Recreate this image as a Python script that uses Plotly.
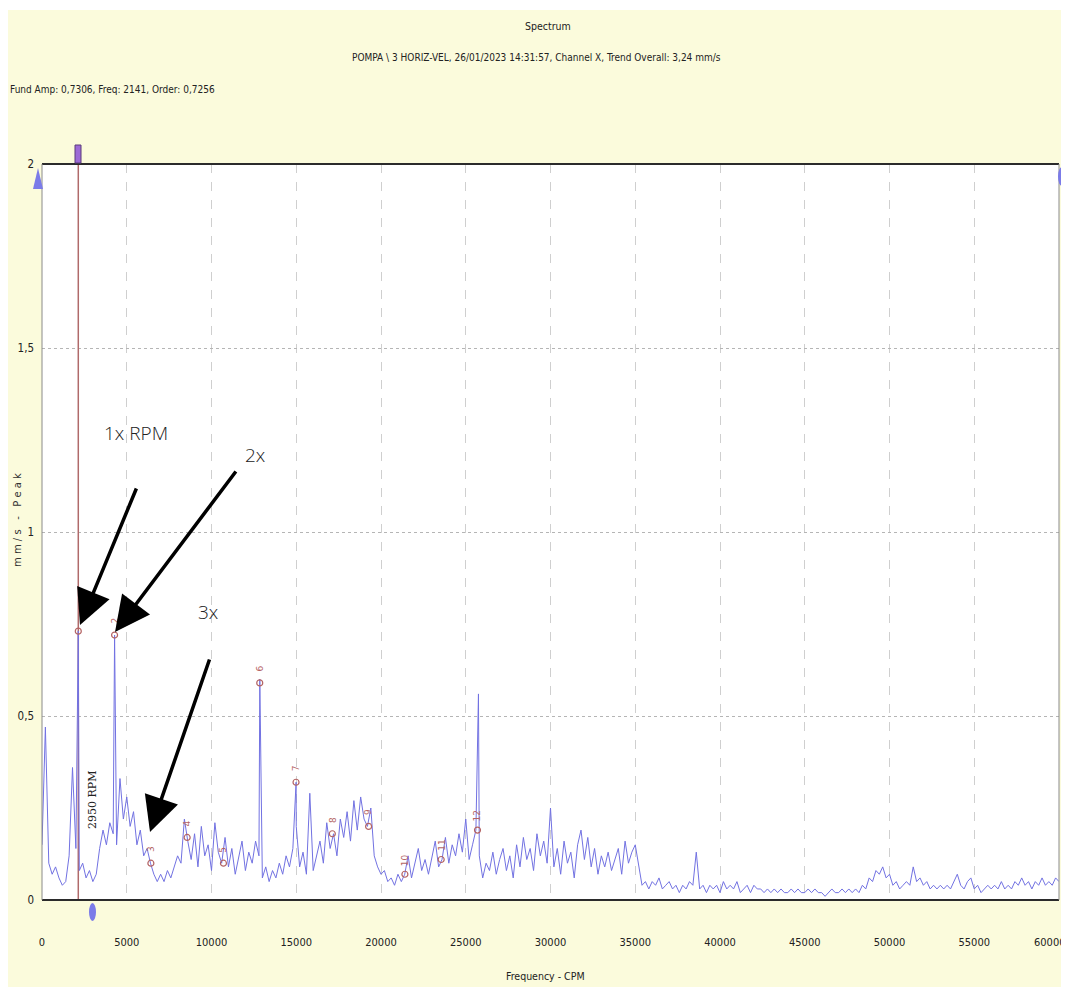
import plotly.graph_objects as go

# ---------------- data ----------------
step_cpm = 200
spectrum_amp = [
    0.15, 0.47, 0.10, 0.07, 0.09, 0.06, 0.04, 0.05, 0.12, 0.36,
    0.14, 0.08, 0.10, 0.06, 0.08, 0.05, 0.07, 0.14, 0.19, 0.15,
    0.21, 0.18, 0.15, 0.33, 0.22, 0.28, 0.20, 0.24, 0.15, 0.19,
    0.12, 0.14, 0.10, 0.07, 0.05, 0.07, 0.05, 0.08, 0.06, 0.09,
    0.12, 0.10, 0.22, 0.16, 0.11, 0.18, 0.09, 0.20, 0.12, 0.15,
    0.08, 0.21, 0.13, 0.10, 0.17, 0.09, 0.14, 0.07, 0.12, 0.16,
    0.08, 0.13, 0.10, 0.16, 0.12, 0.06, 0.09, 0.05, 0.08, 0.06,
    0.10, 0.07, 0.12, 0.09, 0.14, 0.20, 0.09, 0.13, 0.07, 0.29,
    0.08, 0.12, 0.16, 0.10, 0.21, 0.14, 0.18, 0.12, 0.22, 0.17,
    0.24, 0.16, 0.27, 0.19, 0.28, 0.22, 0.20, 0.25, 0.12, 0.09,
    0.07, 0.08, 0.05, 0.06, 0.04, 0.07, 0.05, 0.07, 0.12, 0.06,
    0.10, 0.14, 0.08, 0.11, 0.07, 0.12, 0.16, 0.09, 0.11, 0.17,
    0.10, 0.15, 0.12, 0.18, 0.13, 0.22, 0.11, 0.15, 0.19, 0.12,
    0.06, 0.10, 0.08, 0.13, 0.07, 0.11, 0.14, 0.08, 0.12, 0.06,
    0.15, 0.09, 0.17, 0.11, 0.14, 0.08, 0.18, 0.12, 0.16, 0.10,
    0.25, 0.09, 0.14, 0.07, 0.16, 0.10, 0.13, 0.06, 0.15, 0.19,
    0.11, 0.17, 0.09, 0.14, 0.07, 0.12, 0.09, 0.13, 0.08, 0.11,
    0.14, 0.07, 0.16, 0.10, 0.13, 0.15, 0.09, 0.04, 0.05, 0.03,
    0.05, 0.04, 0.06, 0.03, 0.04, 0.05, 0.03, 0.04, 0.02, 0.04,
    0.03, 0.05, 0.04, 0.13, 0.03, 0.04, 0.02, 0.04, 0.03, 0.04,
    0.02, 0.05, 0.03, 0.04, 0.03, 0.05, 0.02, 0.03, 0.04, 0.02,
    0.04, 0.03, 0.03, 0.02, 0.03, 0.02, 0.03, 0.02, 0.03, 0.02,
    0.02, 0.03, 0.02, 0.03, 0.02, 0.02, 0.03, 0.02, 0.03, 0.02,
    0.02, 0.01, 0.02, 0.03, 0.02, 0.02, 0.03, 0.02, 0.03, 0.02,
    0.03, 0.02, 0.04, 0.03, 0.06, 0.05, 0.08, 0.07, 0.09, 0.06,
    0.07, 0.04, 0.05, 0.03, 0.04, 0.05, 0.04, 0.09, 0.05, 0.06,
    0.04, 0.05, 0.03, 0.04, 0.03, 0.04, 0.03, 0.04, 0.03, 0.05,
    0.07, 0.04, 0.03, 0.05, 0.06, 0.03, 0.04, 0.02, 0.03, 0.04,
    0.03, 0.04, 0.03, 0.05, 0.03, 0.04, 0.03, 0.05, 0.04, 0.06,
    0.04, 0.05, 0.03, 0.05, 0.04, 0.06, 0.04, 0.05, 0.04, 0.06,
    0.05,
]
spectrum_freq = [i * step_cpm for i in range(len(spectrum_amp))]

# narrow discrete peaks (CPM, mm/s)
peak_freq = [2141, 4282, 12850, 14990, 25750]
peak_amp = [0.7306, 0.72, 0.60, 0.32, 0.56]

# order markers (harmonics of 2141 CPM)
fund_freq = 2141
order_num = [1, 2, 3, 4, 5, 6, 7, 8, 9, 10, 11, 12]
order_amp = [0.7306, 0.72, 0.10, 0.17, 0.10, 0.59, 0.32, 0.18, 0.20, 0.07, 0.11, 0.19]
order_freq = [fund_freq * n for n in order_num]

rpm_value = 2950

x_ticks = [0, 5000, 10000, 15000, 20000, 25000, 30000, 35000, 40000, 45000, 50000, 55000, 60000]
y_ticks = [0, 0.5, 1, 1.5, 2]
y_tick_text = ["0", "0,5", "1", "1,5", "2"]

# ---------------- geometry helpers (layout only, page pixels) ----------------
PAGE_W, PAGE_H = 1069, 987
OFF = 8                       # browser body margin
W, H = PAGE_W - OFF, PAGE_H - OFF
L, R, T, B = 42, 1059, 164, 900
XMAX, YMAX = 60000, 2.0


def px2x(px):
    return (px - L) * XMAX / (R - L)


def py2y(py):
    return (B - py) * YMAX / (B - T)


def ppx(px):
    return (px - L) / (R - L)


def ppy(py):
    return (B - py) / (B - T)


NARROW = "DejaVu Sans Condensed, DejaVu Sans, sans-serif"
BG = "#fbfbdc"
LINE_BLUE = "#7272e2"
ORDER_RED = "#b46464"
TXT = "#222222"

# merge grid and peaks
pts = sorted(list(zip(spectrum_freq, spectrum_amp)) + list(zip(peak_freq, peak_amp)))
fx = [p[0] for p in pts]
fy = [p[1] for p in pts]

fig = go.Figure()

# cursor line at 1x
fig.add_trace(go.Scatter(x=[fund_freq, fund_freq], y=[0, YMAX], mode="lines",
                         line=dict(color="#b06a6a", width=1.5), hoverinfo="skip", showlegend=False))

fig.add_trace(go.Scatter(x=fx, y=fy, mode="lines", line=dict(color=LINE_BLUE, width=1),
                         showlegend=False))

fig.add_trace(go.Scatter(x=order_freq, y=order_amp, mode="markers",
                         marker=dict(symbol="circle-open", size=6, color=ORDER_RED, line=dict(width=1.2)),
                         showlegend=False))

annotations = []
for n, f, a in zip(order_num, order_freq, order_amp):
    if n == 1:
        continue
    annotations.append(dict(x=f, y=a, text=str(n), showarrow=False, textangle=-90,
                            font=dict(family="DejaVu Sans", size=9, color=ORDER_RED),
                            yshift=14, xref="x", yref="y"))

# RPM label
annotations.append(dict(x=rpm_value, y=py2y(800), text="2950 RPM", showarrow=False, textangle=-90,
                        font=dict(family="DejaVu Serif, serif", size=11, color=TXT), xref="x", yref="y"))


def paper_text(px, py, text, size, family=NARROW, xanchor="center", angle=0, color=TXT):
    return dict(x=ppx(px), y=ppy(py), xref="paper", yref="paper", text=text, showarrow=False,
                xanchor=xanchor, yanchor="middle", textangle=angle,
                font=dict(family=family, size=size, color=color))


# titles
annotations += [
    paper_text(548, 26, "Spectrum", 10.5),
    paper_text(536, 58, "POMPA \\ 3 HORIZ-VEL, 26/01/2023 14:31:57, Channel X, Trend Overall: 3,24 mm/s", 10),
    paper_text(8, 90, "Fund Amp: 0,7306, Freq: 2141, Order: 0,7256", 10, xanchor="left"),
    paper_text(17, 520, "m\u00a0m\u00a0/\u00a0s\u00a0\u00a0\u00a0-\u00a0\u00a0\u00a0P\u00a0e\u00a0a\u00a0k", 10,
               family="DejaVu Sans", angle=-90, color="#333333"),
    paper_text(545, 976, "Frequency - CPM", 10.5),
    # last x tick label, kept inside the page edge
    paper_text(1067, 942, str(x_ticks[-1]), 11, xanchor="right"),
]

# callout texts
ANN_FONT = dict(family="Open Sans, sans-serif", size=19, color="#222222", weight=300)
annotations += [
    dict(x=px2x(136), y=py2y(433), text="1x RPM", showarrow=False, font=ANN_FONT),
    dict(x=px2x(255), y=py2y(455), text="2x", showarrow=False, font=ANN_FONT),
    dict(x=px2x(208), y=py2y(612), text="3x", showarrow=False, font=ANN_FONT),
]

# arrows (tip in data coords, tail offset in pixels)
for tip, tail in [((80, 625), (137, 487)), ((115, 632), (237, 470)), ((150, 832), (210, 658))]:
    annotations.append(dict(x=px2x(tip[0]), y=py2y(tip[1]), ax=tail[0] - tip[0], ay=tail[1] - tip[1],
                            text="", showarrow=True, arrowhead=2, arrowsize=2.0, arrowwidth=3.5,
                            arrowcolor="#000000", xref="x", yref="y"))

shapes = [
    # white strips at the image edges
    dict(type="rect", xref="paper", yref="paper", x0=ppx(0), x1=ppx(PAGE_W), y0=ppy(0), y1=ppy(10),
         fillcolor="white", line=dict(width=0), layer="below"),
    dict(type="rect", xref="paper", yref="paper", x0=ppx(1068), x1=ppx(PAGE_W + 5), y0=ppy(0), y1=ppy(PAGE_H + 5),
         fillcolor="white", line=dict(width=0), layer="below"),
    # frame
    dict(type="line", xref="paper", yref="paper", x0=0, x1=1, y0=1, y1=1, line=dict(color="#2b2b2b", width=2)),
    dict(type="line", xref="paper", yref="paper", x0=0, x1=1, y0=0, y1=0, line=dict(color="#2b2b2b", width=2)),
    dict(type="line", xref="paper", yref="paper", x0=0, x1=0, y0=0, y1=1, line=dict(color="#8a8a8a", width=1)),
    dict(type="line", xref="paper", yref="paper", x0=1, x1=1, y0=0, y1=1, line=dict(color="#8a8a8a", width=1)),
    # cursor handle at top
    dict(type="rect", xref="paper", yref="paper", x0=ppx(75), x1=ppx(81), y0=ppy(145), y1=ppy(163),
         fillcolor="#9c6ad6", line=dict(color="#5a3a7a", width=1)),
    # left scale triangle
    dict(type="path", xref="paper", yref="paper",
         path=f"M {ppx(33)},{ppy(189)} L {ppx(43)},{ppy(189)} L {ppx(38)},{ppy(168)} Z",
         fillcolor="#7b7be8", line=dict(width=0)),
    # right ellipse
    dict(type="circle", xref="paper", yref="paper", x0=ppx(1058), x1=ppx(1066), y0=ppy(186), y1=ppy(167),
         fillcolor="#7b7be8", line=dict(width=0)),
    # bottom rpm ellipse
    dict(type="circle", xref="paper", yref="paper", x0=ppx(89), x1=ppx(96), y0=ppy(921), y1=ppy(903),
         fillcolor="#7b7be8", line=dict(width=0)),
]

tick_text = [str(v) for v in x_ticks[:-1]] + [""]

fig.update_layout(
    width=W, height=H,
    margin=dict(l=L - OFF, r=PAGE_W - R, t=T - OFF, b=PAGE_H - B, pad=0, autoexpand=False),
    paper_bgcolor=BG, plot_bgcolor="white",
    showlegend=False,
    annotations=annotations, shapes=shapes,
    xaxis=dict(range=[-0.01, XMAX + 0.01], tickvals=x_ticks, ticktext=tick_text,
               showgrid=True, gridcolor="#cfcfcf", griddash="dash", gridwidth=1,
               zeroline=False, showline=False, ticks="", ticklabelstandoff=34,
               ticklabeloverflow="allow",
               tickfont=dict(family=NARROW, size=11, color=TXT)),
    yaxis=dict(range=[0, YMAX], tickvals=y_ticks, ticktext=y_tick_text,
               showgrid=True, gridcolor="#b5b5b5", griddash="dot", gridwidth=1,
               zeroline=False, showline=False, ticks="", ticklabelstandoff=7,
               tickfont=dict(family=NARROW, size=11.5, color=TXT)),
)

fig.write_html("out.html")
